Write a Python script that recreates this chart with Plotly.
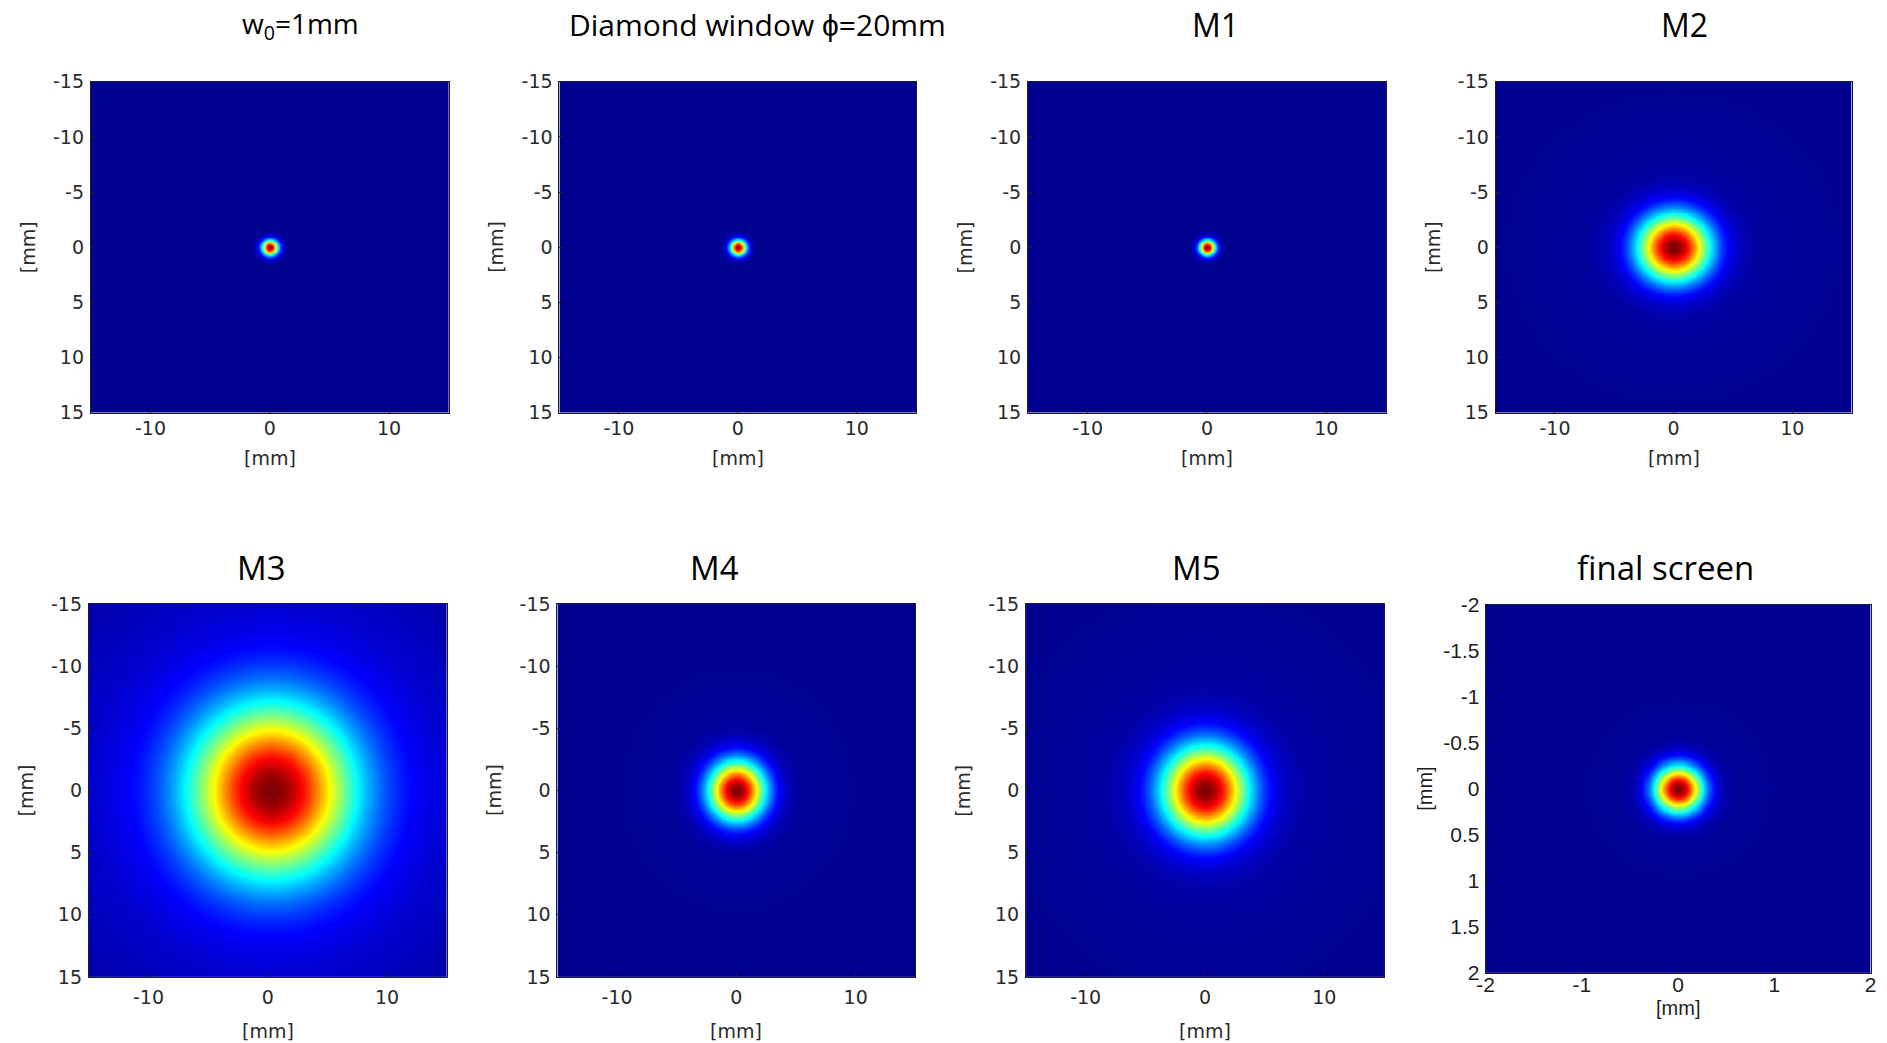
import numpy as np
import plotly.graph_objects as go

# Screen placement: the page body keeps its default 8px margin and the
# captured frame is slightly squeezed, so window positions are mapped
# through a small linear correction before being turned into paper units.
PAGE_PAD = 8
SCALE_X, SCALE_Y, SHIFT_Y = 0.995, 0.978, 1.5
FIG_W, FIG_H = 1890, 1060

# Beam profiles along the optical line (intensity, normalised to peak)
titles = ["w<sub>0</sub>=1mm", "Diamond window ϕ=20mm", "M1", "M2",
          "M3", "M4", "M5", "final screen"]
title_size = [28, 30, 32, 32, 33, 33, 33, 33]
half_width_mm = [15, 15, 15, 15, 15, 15, 15, 2]
beam_radius_mm = [1.0, 1.0, 1.0, 4.3, 9.2, 3.4, 5.1, 0.36]
halo_fraction = [0.0, 0.0, 0.0, 0.03, 0.15, 0.02, 0.05, 0.02]
halo_radius_mm = [3.0, 3.0, 3.0, 12.0, 24.0, 9.0, 13.0, 0.9]
centre_x_mm = [0.0, 0.0, 0.0, 0.0, 0.3, 0.0, 0.0, 0.0]
centre_y_mm = [0.0, 0.0, 0.0, 0.0, 0.0, 0.0, 0.0, 0.0]

main_x_ticks = [-10, 0, 10]
main_y_ticks = [-15, -10, -5, 0, 5, 10, 15]
final_x_ticks = [-2, -1, 0, 1, 2]
final_y_ticks = [-2, -1.5, -1, -0.5, 0, 0.5, 1, 1.5, 2]

# Panel boxes in window pixels: left, right, top, bottom
box_left = [90, 560, 1030, 1499, 88, 558, 1028, 1489]
box_right = [449, 918, 1389, 1856, 447, 917, 1387, 1875]
box_top = [79, 79, 79, 79, 601, 601, 601, 602]
box_bottom = [410, 410, 410, 410, 974, 974, 974, 970]
title_x = [300, 759, 1218, 1688, 261, 716, 1199, 1669]
title_y = [22, 22, 22, 22, 565, 565, 565, 565]
x_label_standoff = [-2, -2, -2, -2, 3, 3, 3, -7]

# MATLAB-style jet colour map
jet = [[0.0, "rgb(0,0,143)"], [0.125, "rgb(0,0,255)"], [0.375, "rgb(0,255,255)"],
       [0.625, "rgb(255,255,0)"], [0.875, "rgb(255,0,0)"], [1.0, "rgb(128,0,0)"]]


def fmt(v):
    return "%g" % v


def px_x(p):
    return (p / SCALE_X - PAGE_PAD) / FIG_W


def px_y(p):
    return 1 - ((p - SHIFT_Y) / SCALE_Y - PAGE_PAD) / FIG_H


fig = go.Figure()
annotations = []

for i in range(8):
    hw = half_width_mm[i]
    n = 241 if hw > 5 else 181
    grid = np.linspace(-hw, hw, n)
    X, Y = np.meshgrid(grid, grid)
    r2 = (X - centre_x_mm[i]) ** 2 + (Y - centre_y_mm[i]) ** 2
    h = halo_fraction[i]
    z = (1 - h) * np.exp(-2 * r2 / beam_radius_mm[i] ** 2) + h * np.exp(-2 * r2 / halo_radius_mm[i] ** 2)
    z = z / z.max()

    ax = "" if i == 0 else str(i + 1)
    fig.add_trace(go.Heatmap(
        x=grid, y=grid, z=z, colorscale=jet, zmin=0, zmax=1,
        zsmooth="best", showscale=False, hoverinfo="skip",
        xaxis="x" + ax, yaxis="y" + ax))

    final = hw < 5
    xt = final_x_ticks if final else main_x_ticks
    yt = final_y_ticks if final else main_y_ticks
    if final:
        tick_font = dict(family="Liberation Sans, Arial, sans-serif", size=21, color="#1e1e1e")
    else:
        tick_font = dict(family="DejaVu Sans, sans-serif", size=19, color="#2a2a2a")
    common = dict(showline=True, mirror=True, linecolor="#1c1c3a", linewidth=1,
                  ticks="inside", ticklen=4, tickcolor="#1c1c3a",
                  showgrid=False, zeroline=False, tickfont=tick_font)
    fig.update_layout(**{
        "xaxis" + ax: dict(domain=[px_x(box_left[i]), px_x(box_right[i])],
                           range=[-hw, hw], tickvals=xt,
                           ticktext=[fmt(v) for v in xt],
                           anchor="y" + ax, ticklabelstandoff=x_label_standoff[i],
                           **common),
        "yaxis" + ax: dict(domain=[px_y(box_bottom[i]), px_y(box_top[i])],
                           range=[hw, -hw], tickvals=yt,
                           ticktext=[fmt(v) for v in yt],
                           anchor="x" + ax, ticklabelstandoff=1 if final else 2,
                           **common),
    })

    # panel title
    annotations.append(dict(
        text=titles[i], x=px_x(title_x[i]), y=px_y(title_y[i]),
        xref="paper", yref="paper", xanchor="center", yanchor="middle",
        showarrow=False,
        font=dict(family="Open Sans, sans-serif", size=title_size[i], color="#000")))

    # axis labels
    cx = (box_left[i] + box_right[i]) / 2
    cy = (box_top[i] + box_bottom[i]) / 2
    below = 35 if final else (45 if i < 4 else 54)
    left = 61 if final else 63
    if final:
        lab_font = dict(family="Liberation Sans, Arial, sans-serif", size=20, color="#1e1e1e")
    else:
        lab_font = dict(family="DejaVu Sans, sans-serif", size=19, color="#2a2a2a")
    annotations.append(dict(
        text="[mm]", x=px_x(cx), y=px_y(box_bottom[i] + below),
        xref="paper", yref="paper", xanchor="center", yanchor="middle",
        showarrow=False, font=lab_font))
    annotations.append(dict(
        text="[mm]", x=px_x(box_left[i] - left), y=px_y(cy),
        xref="paper", yref="paper", xanchor="center", yanchor="middle",
        showarrow=False, textangle=-90, font=lab_font))

fig.update_layout(
    width=FIG_W, height=FIG_H, autosize=False,
    margin=dict(l=0, r=0, t=0, b=0),
    paper_bgcolor="white", plot_bgcolor="white",
    showlegend=False, annotations=annotations)

fig.write_html("out.html", config={"displayModeBar": False})
